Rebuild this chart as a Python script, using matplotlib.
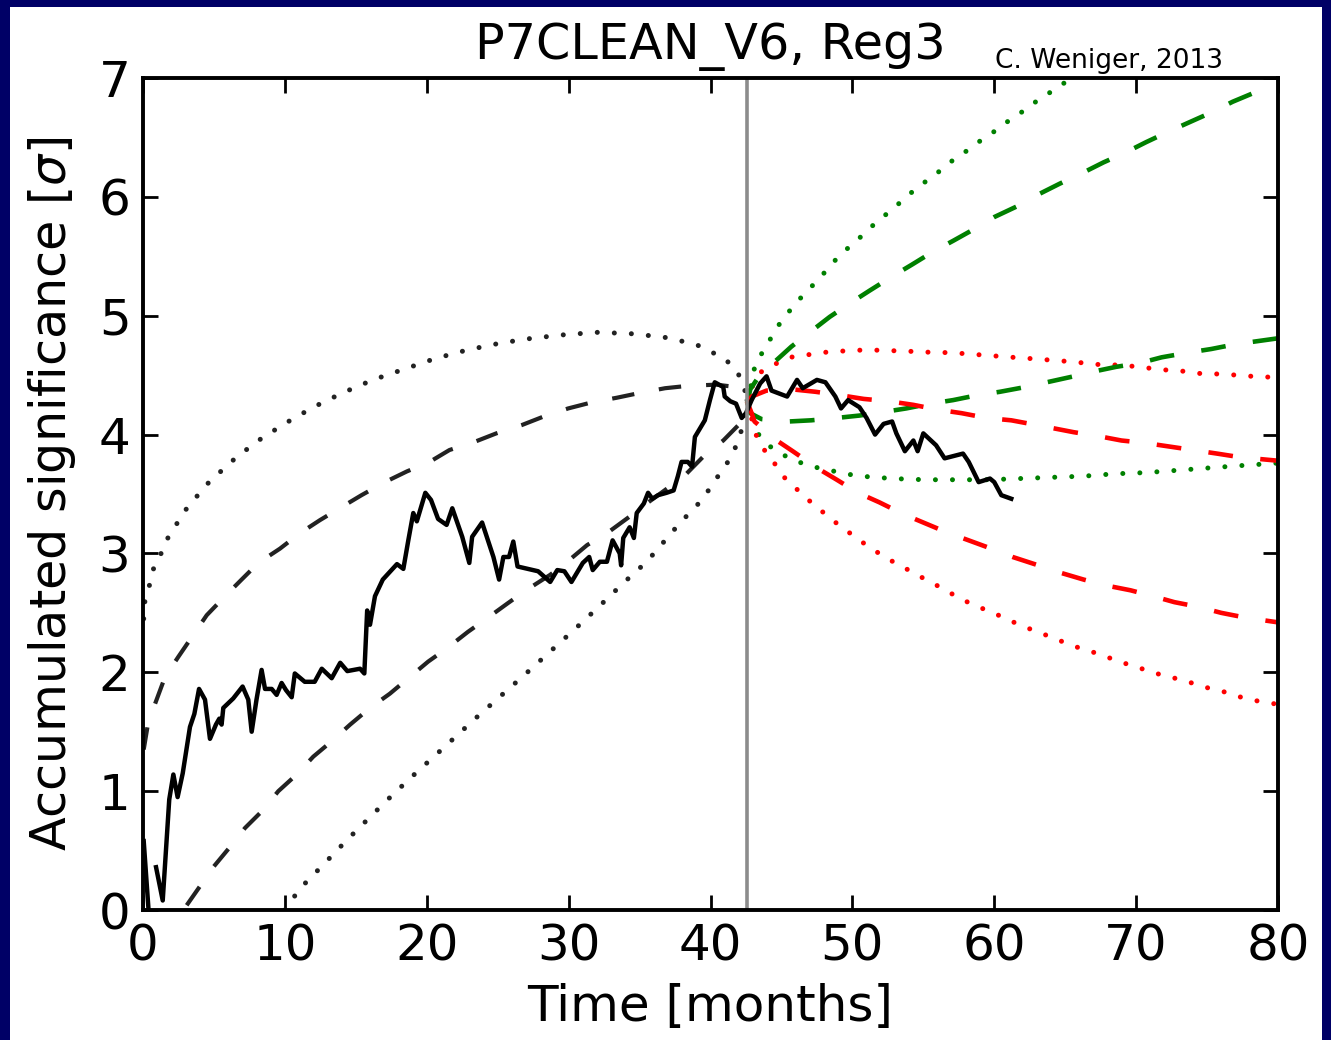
import matplotlib
matplotlib.use('Agg')
import matplotlib.pyplot as plt
from matplotlib.patches import Rectangle
import numpy as np

obs_t = [0.05, 0.45, np.nan, 0.92, 1.39, 1.85, 2.14, 2.44, 2.8, 3.31, 3.62, 3.95, 4.37, 4.72, 5.14,
         5.38, 5.54, 5.66, 6.36, 7.02, 7.42, 7.66, 8.0, 8.36, 8.6, 9.07, 9.42, 9.77, 10.08,
         10.48, 10.7, 11.4, 12.1, 12.6, 13.3, 13.9, 14.4, 15.3, 15.6, 15.8, 16.0, 16.35, 16.9,
         17.9, 18.35, 18.7, 19.05, 19.3, 19.9, 20.3, 20.8, 21.4, 21.8, 22.5, 23.0, 23.2, 23.9,
         24.7, 25.1, 25.4, 25.8, 26.1, 26.4, 27.85, 28.7, 29.2, 29.7, 30.2, 31.0, 31.45, 31.7,
         32.2, 32.7, 33.1, 33.6, 33.7, 33.85, 34.3, 34.6, 34.8, 35.3, 35.6, 35.9, 36.3, 36.9,
         37.4, 37.7, 37.96, 38.4, 38.7, 38.9, 39.25, 39.6, 39.96, 40.3, 40.9, 41.0, 41.4, 41.8,
         42.2, 42.5, 42.9, 43.5, 43.95, 44.3, 45.4, 46.1, 46.5, 47.5, 48.1, 48.8, 49.2, 49.7,
         50.5, 51.0, 51.6, 52.2, 52.8, 53.1, 53.7, 54.3, 54.6, 55.0, 55.9, 56.5, 57.8, 58.2,
         58.9, 59.7, 60.0, 60.5, 61.2]
obs_s = [0.58, -0.1, np.nan, 0.36, 0.08, 0.93, 1.14, 0.95, 1.15, 1.54, 1.65, 1.86, 1.77, 1.44, 1.56,
         1.61, 1.56, 1.70, 1.78, 1.88, 1.77, 1.50, 1.77, 2.02, 1.86, 1.86, 1.81, 1.91, 1.85,
         1.79, 1.99, 1.92, 1.92, 2.03, 1.95, 2.08, 2.01, 2.03, 1.99, 2.52, 2.40, 2.64, 2.78,
         2.91, 2.87, 3.11, 3.34, 3.27, 3.51, 3.45, 3.29, 3.24, 3.38, 3.14, 2.92, 3.14, 3.26,
         2.97, 2.78, 2.97, 2.97, 3.10, 2.89, 2.85, 2.76, 2.86, 2.85, 2.76, 2.92, 2.97, 2.86,
         2.93, 2.93, 3.11, 3.00, 2.90, 3.13, 3.22, 3.13, 3.34, 3.42, 3.51, 3.46, 3.49, 3.51,
         3.53, 3.65, 3.77, 3.77, 3.73, 3.98, 4.05, 4.12, 4.29, 4.44, 4.40, 4.32, 4.28, 4.26,
         4.14, 4.18, 4.29, 4.43, 4.49, 4.37, 4.32, 4.46, 4.39, 4.46, 4.44, 4.32, 4.22, 4.29,
         4.23, 4.14, 4.00, 4.09, 4.11, 4.01, 3.86, 3.95, 3.86, 4.01, 3.91, 3.80, 3.84, 3.77,
         3.60, 3.63, 3.60, 3.49, 3.46]

# backward bands (black), up to the split time
t_split = 42.6
bk_dash_up_t = [0.05, 0.37, 0.96, 1.55, 2.49, 4.49, 5.78, 6.95, 8.13, 9.65, 11.06, 12.47, 14.0,
                15.4, 17.05, 18.6, 20.2, 21.6, 23.4, 24.9, 26.7, 28.2, 29.97, 31.6, 33.4, 35.0,
                36.8, 38.4, 40.4, 41.8, 42.4, 42.6]
bk_dash_up_s = [1.35, 1.58, 1.77, 1.96, 2.13, 2.48, 2.64, 2.78, 2.92, 3.04, 3.17, 3.28, 3.39,
                3.49, 3.60, 3.69, 3.77, 3.87, 3.94, 4.01, 4.08, 4.15, 4.22, 4.27, 4.31, 4.35,
                4.39, 4.41, 4.42, 4.40, 4.36, 4.27]
bk_dash_lo_t = [3.08, 3.9, 4.95, 6.13, 7.19, 8.37, 9.54, 10.83, 12.0, 13.3, 14.6, 16.0, 17.4,
                18.7, 20.1, 21.4, 22.9, 24.2, 25.7, 27.0, 28.7, 29.9, 31.3, 32.7, 34.3, 35.5,
                37.1, 38.3, 39.7, 40.9, 42.3, 42.6]
bk_dash_lo_s = [0.04, 0.18, 0.36, 0.53, 0.69, 0.83, 1.0, 1.14, 1.29, 1.42, 1.56, 1.70, 1.82,
                1.95, 2.09, 2.20, 2.34, 2.45, 2.58, 2.69, 2.82, 2.93, 3.07, 3.17, 3.31, 3.42,
                3.56, 3.67, 3.84, 3.95, 4.12, 4.27]
bk_dot_up_t = [0.05, 0.14, 0.5, 0.78, 1.32, 1.79, 3.03, 4.49, 6.2, 8.0, 9.96, 12.0, 14.05, 16.2,
               18.4, 20.6, 22.8, 25.2, 27.4, 29.7, 32.0, 34.3, 36.7, 38.95, 41.0, 41.8, 42.3, 42.6]
bk_dot_up_s = [2.45, 2.61, 2.75, 2.89, 3.01, 3.14, 3.37, 3.58, 3.77, 3.94, 4.09, 4.23, 4.35, 4.46,
               4.55, 4.64, 4.71, 4.77, 4.81, 4.84, 4.86, 4.85, 4.82, 4.76, 4.64, 4.54, 4.44, 4.27]
bk_dot_lo_t = [10.0, 11.06, 12.7, 14.3, 15.9, 17.6, 19.3, 21.05, 23.6, 25.3, 27.0, 28.75, 30.5,
               32.2, 33.85, 35.5, 36.3, 37.8, 39.4, 40.7, 41.4, 41.9, 42.4, 42.6]
bk_dot_lo_s = [0.0, 0.18, 0.38, 0.58, 0.77, 0.97, 1.16, 1.35, 1.63, 1.81, 1.99, 2.18, 2.37,
               2.56, 2.75, 2.93, 3.04, 3.25, 3.45, 3.68, 3.80, 3.93, 4.12, 4.27]

# forward projections, green
gr_dash_up_t = [42.6, 42.8, 43.3, 44.5, 45.7, 47.1, 48.4, 49.9, 51.2, 52.8, 54.2, 55.7, 57.1,
                58.6, 60.0, 61.6, 63.1, 64.6, 66.2, 67.7, 69.2, 70.7, 72.3, 73.8, 75.3, 76.8,
                78.4, 80.0]
gr_dash_up_s = [4.27, 4.38, 4.47, 4.61, 4.74, 4.87, 4.99, 5.11, 5.21, 5.33, 5.43, 5.54, 5.63,
                5.73, 5.83, 5.92, 6.02, 6.11, 6.20, 6.29, 6.37, 6.46, 6.55, 6.63, 6.71, 6.80,
                6.88, 6.94]
gr_dash_lo_t = [42.6, 42.8, 43.6, 45.5, 47.1, 48.9, 50.5, 52.2, 53.8, 55.5, 57.1, 58.75, 60.4,
                62.2, 63.7, 65.6, 67.0, 68.6, 70.2, 71.8, 73.7, 75.3, 77.0, 80.0]
gr_dash_lo_s = [4.27, 4.18, 4.13, 4.11, 4.12, 4.14, 4.16, 4.19, 4.22, 4.26, 4.29, 4.33, 4.36,
                4.40, 4.44, 4.49, 4.53, 4.57, 4.60, 4.65, 4.69, 4.72, 4.76, 4.81]
gr_dot_up_t = [42.6, 43.1, 43.6, 44.2, 44.8, 45.5, 46.2, 47.0, 47.8, 48.5, 49.3, 50.2, 51.0, 51.9,
               52.8, 53.6, 54.5, 55.4, 56.3, 57.2, 58.1, 59.0, 60.0, 60.9, 61.9, 62.8, 63.7,
               64.7, 66.5]
gr_dot_up_s = [4.27, 4.56, 4.68, 4.80, 4.92, 5.03, 5.13, 5.23, 5.33, 5.43, 5.53, 5.62, 5.71, 5.81,
               5.89, 5.98, 6.07, 6.15, 6.23, 6.32, 6.39, 6.47, 6.55, 6.63, 6.71, 6.79, 6.86,
               6.94, 7.08]
gr_dot_lo_t = [42.6, 43.4, 44.2, 45.1, 46.2, 47.2, 48.4, 49.5, 50.6, 51.7, 52.8, 55.1, 57.3,
               59.6, 61.8, 64.0, 66.3, 68.5, 70.7, 73.0, 75.2, 77.5, 80.0]
gr_dot_lo_s = [4.27, 4.00, 3.90, 3.83, 3.77, 3.73, 3.70, 3.67, 3.65, 3.64, 3.63, 3.62, 3.62,
               3.62, 3.63, 3.64, 3.65, 3.67, 3.68, 3.70, 3.72, 3.74, 3.76]

# forward projections, red
rd_dash_up_t = [42.6, 42.9, 43.95, 45.8, 47.4, 49.2, 50.8, 52.6, 54.3, 56.0, 57.7, 59.45, 61.2,
                63.0, 65.6, 67.2, 68.97, 70.6, 72.3, 74.0, 75.7, 77.3, 80.0]
rd_dash_up_s = [4.27, 4.32, 4.37, 4.38, 4.36, 4.33, 4.30, 4.28, 4.25, 4.21, 4.18, 4.14, 4.12,
                4.08, 4.02, 3.99, 3.95, 3.93, 3.90, 3.87, 3.84, 3.81, 3.78]
rd_dash_lo_t = [42.6, 42.9, 43.1, 44.8, 45.8, 47.5, 48.9, 50.4, 51.9, 53.6, 55.0, 56.6, 58.2,
                59.8, 61.3, 63.1, 64.6, 66.3, 67.9, 69.6, 71.2, 72.7, 74.4, 76.0, 77.7, 80.0]
rd_dash_lo_s = [4.27, 4.18, 4.11, 3.94, 3.86, 3.72, 3.62, 3.51, 3.43, 3.33, 3.26, 3.18, 3.11,
                3.04, 2.97, 2.90, 2.84, 2.78, 2.73, 2.69, 2.64, 2.59, 2.55, 2.50, 2.46, 2.42]
rd_dot_up_t = [42.6, 43.0, 43.6, 44.5, 45.6, 46.8, 47.8, 49.0, 50.2, 51.2, 52.4, 53.5, 54.6,
               55.7, 56.9, 58.0, 59.1, 60.2, 61.3, 62.5, 63.6, 64.7, 65.8, 67.0, 68.0, 69.2,
               70.3, 71.4, 72.5, 73.7, 74.7, 75.9, 77.1, 78.2, 80.0]
rd_dot_up_s = [4.27, 4.42, 4.53, 4.59, 4.65, 4.67, 4.69, 4.70, 4.71, 4.71, 4.71, 4.70, 4.70,
               4.69, 4.69, 4.68, 4.67, 4.66, 4.65, 4.64, 4.63, 4.62, 4.61, 4.59, 4.59, 4.58,
               4.57, 4.55, 4.54, 4.53, 4.51, 4.51, 4.50, 4.49, 4.48]
rd_dot_lo_t = [42.6, 43.2, 43.8, 44.5, 45.2, 46.0, 46.8, 47.7, 48.6, 49.5, 50.4, 51.35, 52.3,
               53.3, 54.3, 55.3, 56.3, 57.3, 58.3, 59.3, 60.3, 61.4, 62.4, 63.5, 64.55, 65.6,
               66.7, 67.7, 68.8, 69.9, 70.9, 72.0, 73.1, 74.2, 75.3, 76.4, 77.4, 78.5, 80.0]
rd_dot_lo_s = [4.27, 4.00, 3.87, 3.76, 3.64, 3.55, 3.46, 3.37, 3.28, 3.20, 3.12, 3.04, 2.97,
               2.90, 2.84, 2.77, 2.71, 2.64, 2.58, 2.53, 2.48, 2.42, 2.37, 2.32, 2.27, 2.22,
               2.18, 2.14, 2.09, 2.05, 2.01, 1.97, 1.94, 1.90, 1.86, 1.83, 1.79, 1.76, 1.73]

navy = '#000066'
lw_d = 3.0
lw_o = 3.6
dash = (5.4, 6.0)
dot = (0.01, 3.4)

fig = plt.figure(figsize=(13.31, 10.40), dpi=100)
fig.patch.set_facecolor(navy)
fig.add_artist(Rectangle((10 / 1331, 0), 1312 / 1331, 1033 / 1040,
                         transform=fig.transFigure, facecolor='white', edgecolor='none', zorder=-1))

ax = fig.add_axes([143 / 1331, 130 / 1040, 1135 / 1331, 832 / 1040])

ax.plot(bk_dot_up_t, bk_dot_up_s, color='#222222', lw=lw_o, dashes=dot, dash_capstyle='round')
ax.plot(bk_dot_lo_t, bk_dot_lo_s, color='#222222', lw=lw_o, dashes=dot, dash_capstyle='round')
ax.plot(bk_dash_up_t, bk_dash_up_s, color='#222222', lw=lw_d, dashes=dash)
ax.plot(bk_dash_lo_t, bk_dash_lo_s, color='#222222', lw=lw_d, dashes=dash)

ax.plot(gr_dot_up_t, gr_dot_up_s, color='g', lw=lw_o, dashes=dot, dash_capstyle='round')
ax.plot(gr_dot_lo_t, gr_dot_lo_s, color='g', lw=lw_o, dashes=dot, dash_capstyle='round')
ax.plot(rd_dot_up_t, rd_dot_up_s, color='r', lw=lw_o, dashes=dot, dash_capstyle='round')
ax.plot(rd_dot_lo_t, rd_dot_lo_s, color='r', lw=lw_o, dashes=dot, dash_capstyle='round')
ax.plot(gr_dash_up_t, gr_dash_up_s, color='g', lw=lw_d + 0.3, dashes=dash)
ax.plot(gr_dash_lo_t, gr_dash_lo_s, color='g', lw=lw_d + 0.3, dashes=dash)
ax.plot(rd_dash_up_t, rd_dash_up_s, color='r', lw=lw_d + 0.3, dashes=dash)
ax.plot(rd_dash_lo_t, rd_dash_lo_s, color='r', lw=lw_d + 0.3, dashes=dash)

ax.plot(obs_t, obs_s, color='k', lw=3.2)
ax.axvline(t_split, color='0.55', lw=2.6)

ax.set_xlim(0, 80)
ax.set_ylim(0, 7)
ax.set_xticks(np.arange(0, 81, 10))
ax.set_yticks(np.arange(0, 8, 1))
ax.tick_params(direction='in', length=11, width=2.0, labelsize=36, pad=9,
               top=True, right=True)
for sp in ax.spines.values():
    sp.set_linewidth(2.8)

ax.set_xlabel('Time [months]', fontsize=36, labelpad=9)
ax.set_ylabel(r'Accumulated significance [$\sigma$]', fontsize=35.5, labelpad=15)
ax.set_title('P7CLEAN_V6, Reg3', fontsize=35.5, pad=14)
fig.text(995 / 1331, 1 - 68 / 1040, 'C. Weniger, 2013', fontsize=19, ha='left', va='baseline')

fig.savefig('out.png', dpi=100, facecolor=fig.get_facecolor())
